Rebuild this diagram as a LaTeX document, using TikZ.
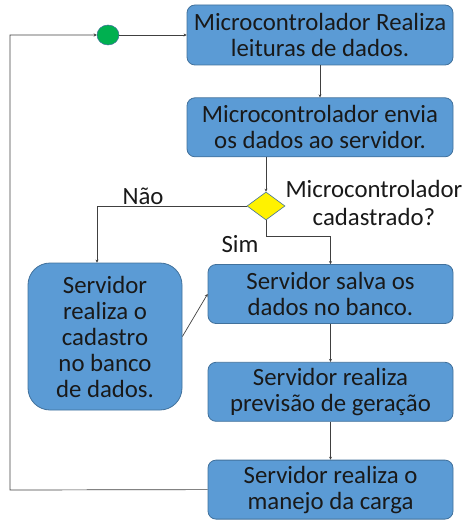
\documentclass[tikz,border=0pt]{standalone}
\usepackage{fontspec}
\setmainfont{Carlito}
\usepackage{xcolor}
\usetikzlibrary{arrows.meta,positioning,shapes.geometric}

\definecolor{boxblue}{HTML}{5B9BD5}
\definecolor{boxedge}{HTML}{41719C}
\definecolor{linegray}{HTML}{404040}
\definecolor{startgreen}{HTML}{00B050}

\begin{document}
\begin{tikzpicture}[
x=1pt, y=-1pt,
node distance=38pt,
stepbox/.style={
    rectangle,
    draw=boxedge,
    line width=0.8pt,
    rounded corners=8pt,
    minimum width=245pt,
    minimum height=59pt,
    align=center,
    fill=boxblue,
    text=black!90,
    inner sep=2pt,
    font=\fontsize{24.8}{26}\selectfont
},
decision/.style={
    diamond,
    draw=boxedge,
    line width=0.6pt,
    fill=yellow,
    minimum width=38pt,
    minimum height=28pt,
    inner sep=0pt
},
lbl/.style={font=\fontsize{24.8}{28}\selectfont, align=center, text=black!90},
arr/.style={-{Stealth[length=3pt,width=3pt]}, line width=0.7pt, draw=linegray}
]
\useasboundingbox (0,0) rectangle (465,521);

\node[stepbox, minimum width=266pt, minimum height=60pt] (read) at (320,35) {Microcontrolador Realiza\\leituras de dados.};
\node[stepbox, minimum width=266pt, below=32pt of read] (send) {Microcontrolador envia\\os dados ao servidor.};
\node[decision] (check) at (266,206) {};
\node[lbl, anchor=west] (checklbl) at (282,203) {Microcontrolador\\cadastrado?};
\node[stepbox] (save) at (330.5,294) {Servidor salva os\\dados no banco.};
\node[stepbox, below=of save] (predict) {Servidor realiza\\previsão de geração};
\node[stepbox, below=of predict] (manage) {Servidor realiza o\\manejo da carga};
\node[stepbox, rounded corners=22pt, minimum width=154pt, minimum height=147pt] (register) at (105,336.5) {Servidor\\realiza o\\cadastro\\no banco\\de dados.};
\node[ellipse, draw=boxedge, line width=0.5pt, fill=startgreen, minimum width=22pt, minimum height=20pt, inner sep=0pt] (start) at (108,35) {};

\node[lbl] (nolbl) at (143,196) {Não};
\node[lbl] (yeslbl) at (240,244) {Sim};

\coordinate (back) at (10,490);

\draw[arr] (read) -- (send);
\draw[arr] (send.south -| check) -- (check.north);
\draw[arr] (check.west) -| ([xshift=-8pt]register.north);
\draw[arr] (check.south) -- ++(0,16) -| (save.north);
\draw[arr] (register.east) -- (save.west);
\draw[arr] (save) -- (predict);
\draw[arr] (predict) -- (manage);
\draw[arr] (manage.west) -- (back) |- (start);
\draw[arr] (start) -- (read);
\end{tikzpicture}
\end{document}
